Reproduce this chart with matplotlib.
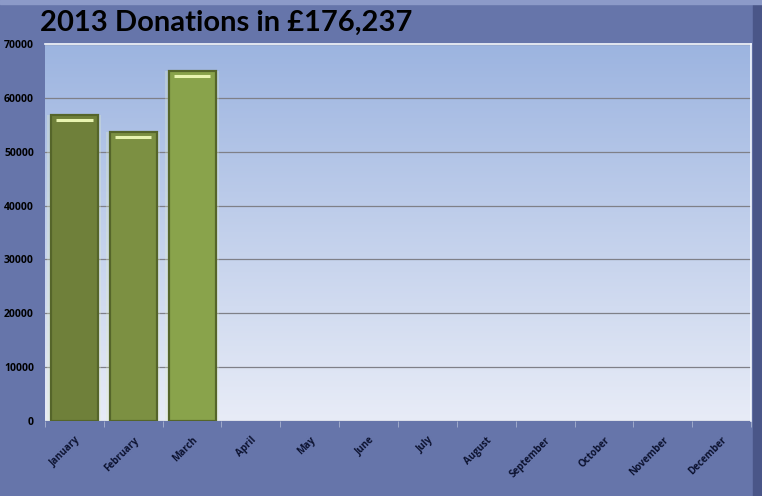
import matplotlib.pyplot as plt
import numpy as np
from matplotlib.colors import LinearSegmentedColormap

months = ['January', 'February', 'March', 'April', 'May', 'June', 'July',
          'August', 'September', 'October', 'November', 'December']
donations = [56800, 53700, 65000, 0, 0, 0, 0, 0, 0, 0, 0, 0]
bar_colors = ['#6f803a', '#7c9042', '#89a34b']
title = '2013 Donations in £176,237'

plt.rcParams['font.family'] = ['Open Sans', 'DejaVu Sans']

fig = plt.figure(figsize=(7.62, 4.96), dpi=100, facecolor='#6675aa')
ax = fig.add_axes([45 / 762, 75 / 496, 706 / 762, 377 / 496])

# gradient background of plot area (darker at top)
cmap = LinearSegmentedColormap.from_list('bg', ['#9cb4e0', '#e8ecf7'])
grad = np.linspace(0, 1, 256).reshape(-1, 1)
ax.imshow(grad, cmap=cmap, aspect='auto', extent=[0, 1, 0, 1],
          transform=ax.transAxes, zorder=0)

x = np.arange(len(months))
ax.set_xlim(-0.5, len(months) - 0.5)
ax.set_ylim(0, 70000)
ax.set_yticks(range(0, 70001, 10000))
ax.grid(axis='y', color='#7f8088', linewidth=0.9, zorder=1)

for i, v in enumerate(donations):
    if v <= 0:
        continue
    # soft glow behind the bar
    ax.bar(x[i], v, width=0.92, color='#e4f0cc', alpha=0.3, linewidth=0, zorder=2)
    ax.bar(x[i], v, width=0.8, color=bar_colors[i], edgecolor='#55652a',
           linewidth=1.6, zorder=3)
    # bevel highlight near the top
    ax.hlines(v - 900, x[i] - 0.31, x[i] + 0.31, color='#e8f4b0', linewidth=2.2, zorder=4)

ax.set_xticks(np.arange(-0.5, len(months), 1), minor=True)
ax.set_xticks(x)
ax.set_xticklabels(months, rotation=45, ha='right', rotation_mode='anchor',
                   fontsize=7, fontweight='bold', color='#0c1230')
ax.tick_params(axis='x', which='major', length=0, pad=10)
ax.tick_params(axis='x', which='minor', length=4, color='#a8b2d0')
ax.tick_params(axis='y', length=0, labelsize=7.5, pad=8)
for lab in ax.get_yticklabels():
    lab.set_fontweight('bold')

for name, sp in ax.spines.items():
    sp.set_visible(False)
ax.spines['top'].set_visible(True)
ax.spines['top'].set_color('#f4f8ff')
ax.spines['top'].set_linewidth(1.2)
ax.spines['right'].set_visible(True)
ax.spines['right'].set_color('#f4f8ff')
ax.spines['right'].set_linewidth(1.2)

fig.text(40 / 762, 1 - 23 / 496, title, fontsize=21, fontweight='bold',
         color='black', va='center', ha='left', family=['Lato', 'DejaVu Sans'])

# frame shading of the chart object
fig.patches.append(plt.Rectangle((753 / 762, 0), 9 / 762, 1, transform=fig.transFigure,
                                 color='#4a5688', zorder=0))
fig.patches.append(plt.Rectangle((0, 1 - 4 / 496), 1, 4 / 496, transform=fig.transFigure,
                                 color='#8c9ac8', zorder=0))

fig.savefig('out.png', dpi=100, facecolor=fig.get_facecolor())
